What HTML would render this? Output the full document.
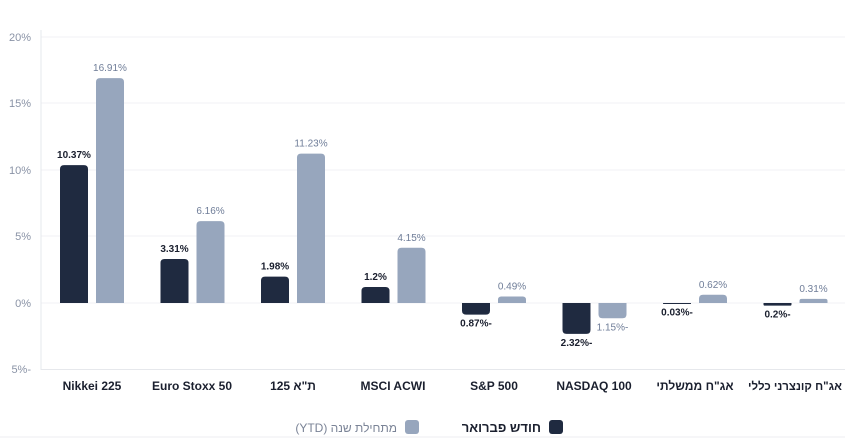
<!DOCTYPE html>
<html><head><meta charset="utf-8"><style>
body{margin:0;background:#fff;}
svg{display:block;font-family:"Liberation Sans","Noto Sans CJK SC",sans-serif;}
</style></head><body>
<svg width="862" height="441" viewBox="0 0 862 441">
<g stroke="#f0f1f4" stroke-width="1">
<line x1="41" y1="37" x2="845" y2="37"/><line x1="41" y1="103" x2="845" y2="103"/>
<line x1="41" y1="170" x2="845" y2="170"/><line x1="41" y1="236" x2="845" y2="236"/>
<line x1="41" y1="303" x2="845" y2="303"/>
</g>
<line x1="41" y1="30" x2="41" y2="370" stroke="#e6e8ec"/>
<line x1="41" y1="369.5" x2="845" y2="369.5" stroke="#e6e8ec"/>
<g font-size="11" fill="#8a93a6" text-anchor="end">
<text x="31" y="41">20%</text><text x="31" y="107">15%</text><text x="31" y="174">10%</text>
<text x="31" y="240">5%</text><text x="31" y="307">0%</text><text x="31" y="373">5%-</text>
</g>
<g id="bars"></g>
<g font-size="12" font-weight="bold" fill="#1a1f2e" text-anchor="middle">
<text x="92" y="390">Nikkei 225</text><text x="192" y="390">Euro Stoxx 50</text>
<text x="293" y="390">ת"א 125</text><text x="393" y="390">MSCI ACWI</text>
<text x="494" y="390">S&amp;P 500</text><text x="594" y="390">NASDAQ 100</text>
<text x="695" y="390">אג"ח ממשלתי</text><text x="795" y="390" font-size="11.5">אג"ח קונצרני כללי</text>
</g>
<rect x="405" y="420" width="14" height="14" rx="3" fill="#97a6bd"/>
<text x="397" y="432" font-size="12" fill="#7a8396" text-anchor="start" direction="rtl">מתחילת שנה (YTD)</text>
<rect x="549" y="420" width="14" height="14" rx="3" fill="#1f2a40"/>
<text x="541" y="432" font-size="13" font-weight="bold" fill="#1a1f2e" text-anchor="start" direction="rtl">חודש פברואר</text>
<line x1="0" y1="437" x2="845" y2="437" stroke="#eceef2"/>
</svg>
<script>
var d=[[10.37,16.91],[3.31,6.16],[1.98,11.23],[1.2,4.15],[-0.87,0.49],[-2.32,-1.15],[-0.03,0.62],[-0.2,0.31]];
var c=[92,192.5,293,393.5,494,594.5,695,795.5];
var g=document.getElementById('bars'),s='',z=303,k=13.3;
function bar(x,v,col){var h=Math.abs(v)*k;if(h<1)h=1;var y=v>=0?z-h:z;var r=Math.min(4,h/2);
if(v>=0)return '<path d="M'+x+','+z+'V'+(y+r)+'Q'+x+','+y+' '+(x+r)+','+y+'H'+(x+28-r)+'Q'+(x+28)+','+y+' '+(x+28)+','+(y+r)+'V'+z+'Z" fill="'+col+'"/>';
return '<path d="M'+x+','+z+'V'+(z+h-r)+'Q'+x+','+(z+h)+' '+(x+r)+','+(z+h)+'H'+(x+28-r)+'Q'+(x+28)+','+(z+h)+' '+(x+28)+','+(z+h-r)+'V'+z+'Z" fill="'+col+'"/>';}
function lab(v){return (v<0?Math.abs(v)+'%-':v+'%');}
for(var i=0;i<8;i++){var a=d[i][0],b=d[i][1];
s+=bar(c[i]-32,a,'#1f2a40');s+=bar(c[i]+4,b,'#97a6bd');
var ya=a>=0?z-a*k-7:z-a*k+12, yb=b>=0?z-b*k-7:z-b*k+12;
s+='<text x="'+(c[i]-18)+'" y="'+ya+'" font-size="10" font-weight="bold" fill="#1a1f2e" text-anchor="middle">'+lab(a)+'</text>';
s+='<text x="'+(c[i]+18)+'" y="'+yb+'" font-size="10" fill="#6f7d98" text-anchor="middle">'+lab(b)+'</text>';}
g.innerHTML=s;
</script>
</body></html>
